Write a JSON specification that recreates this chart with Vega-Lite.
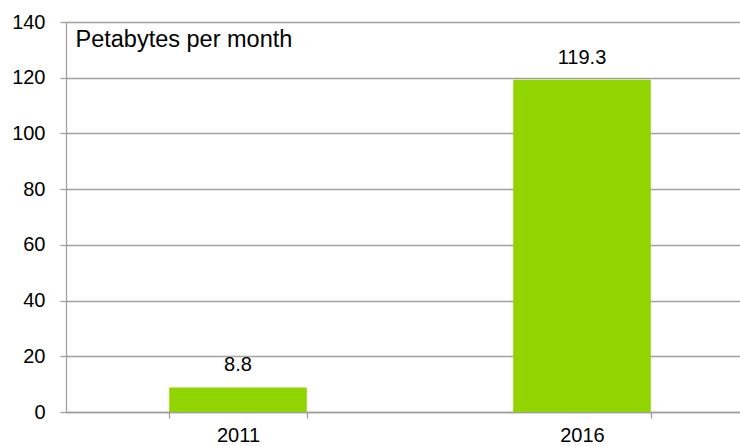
{
  "$schema": "https://vega.github.io/schema/vega-lite/v6.json",
  "autosize": "none",
  "width": 688,
  "height": 390,
  "padding": {"left": 66, "top": 22, "right": 0, "bottom": 34},
  "background": "white",
  "config": {
    "view": {"stroke": null},
    "font": "Liberation Sans",
    "axis": {"labelFont": "Liberation Sans", "labelColor": "#000000", "titleFont": "Liberation Sans"}
  },
  "data": {"values": [
    {"year": "2011", "value": 8.8},
    {"year": "2016", "value": 119.3}
  ]},
  "encoding": {
    "x": {
      "field": "year", "type": "nominal",
      "scale": {"paddingInner": 0.6, "paddingOuter": 0.3},
      "axis": {
        "title": null, "labelAngle": 0, "labelFontSize": 20, "labelPadding": 7,
        "tickBand": "extent", "tickSize": 6, "tickColor": "#a0a0a0", "tickWidth": 1.3,
        "domainColor": "#a0a0a0", "domainWidth": 1.3, "grid": false
      }
    },
    "y": {
      "field": "value", "type": "quantitative",
      "scale": {"domain": [0, 140]},
      "axis": {
        "values": [0, 20, 40, 60, 80, 100, 120, 140],
        "title": "Petabytes per month", "titleAngle": 0, "titleAlign": "left",
        "titleBaseline": "alphabetic", "titleX": 9, "titleY": 24, "titleFontSize": 23.5,
        "titleFontWeight": "normal", "titleColor": "#000000",
        "labelFontSize": 20, "labelPadding": 15,
        "tickSize": 6, "tickColor": "#a0a0a0", "tickWidth": 1.3,
        "domainColor": "#a0a0a0", "domainWidth": 1.3,
        "gridColor": "#a0a0a0", "gridWidth": 1.3
      }
    }
  },
  "layer": [
    {"mark": {"type": "bar", "color": "#92D400"}},
    {
      "mark": {"type": "text", "dy": -16, "baseline": "alphabetic", "fontSize": 20, "color": "#000000"},
      "encoding": {"text": {"field": "value", "type": "quantitative", "format": ".1f"}}
    }
  ]
}
